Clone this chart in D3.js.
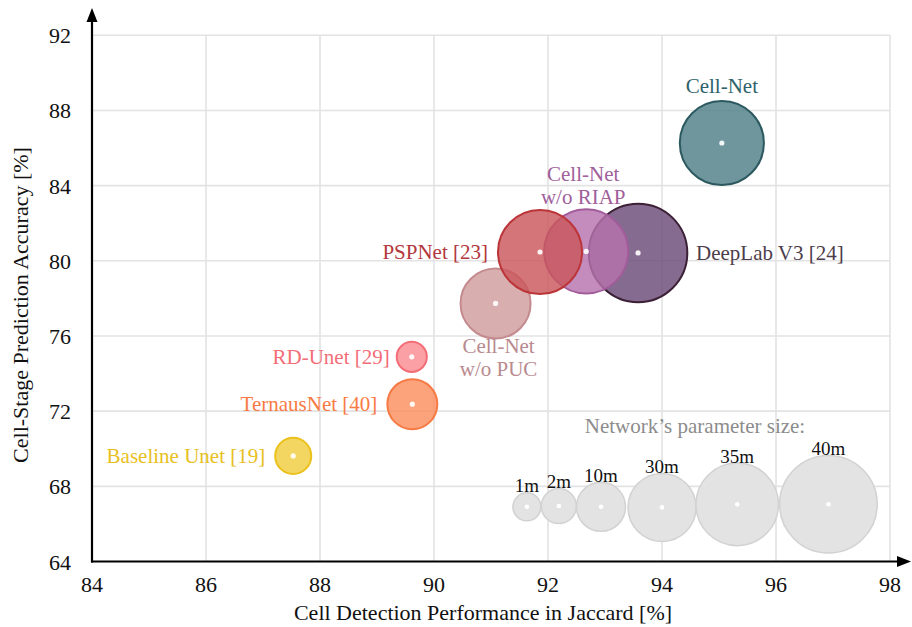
<!DOCTYPE html>
<html>
<head>
<meta charset="utf-8">
<script src="https://cdn.jsdelivr.net/npm/d3@7"></script>
<style>
  body { margin: 0; background: #fff; }
  text { font-family: "Liberation Serif", "Times New Roman", serif; }
</style>
</head>
<body>
<div id="chart"></div>
<script>
// models, drawn bottom to top
const models = ["Cell-Net w/o PUC", "DeepLab V3 [24]", "Cell-Net w/o RIAP", "PSPNet [23]",
    "Cell-Net", "RD-Unet [29]", "TernausNet [40]", "Baseline Unet [19]"];
const jaccard = [91.08, 93.58, 92.67, 91.86, 95.05, 89.61, 89.62, 87.53];
const accuracy = [77.73, 80.42, 80.5, 80.47, 86.27, 74.89, 72.37, 69.62];
const paramSize = [30.7, 40.3, 35.5, 35.5, 35.5, 1.3, 11, 2.6];

// legend bubbles
const legendLabels = ["1m", "2m", "10m", "30m", "35m", "40m"];
const legendSizes = [1, 2, 10, 30, 35, 40];
const legendX = [91.63, 92.19, 92.93, 94.0, 95.32, 96.92];
const legendY = [66.91, 66.95, 66.91, 66.88, 67.04, 67.05];

const xTicks = [84, 86, 88, 90, 92, 94, 96, 98];
const yTicks = [64, 68, 72, 76, 80, 84, 88, 92];

const W = 912, H = 627;

const svg = d3.select("#chart")
    .append("svg")
    .attr("width", W)
    .attr("height", H);

const x = d3.scaleLinear().domain([84, 98]).range([92, 890]);
const y = d3.scaleLinear().domain([64, 92]).range([561.5, 35.3]);
const r = d3.scaleLinear().domain(legendSizes).range([14, 17.5, 24.5, 34, 41.3, 48.8]);

const styles = {
    "Cell-Net w/o PUC": { fill: "#cf9c9d", stroke: "#c48b8e", text: "#b98a8f" },
    "DeepLab V3 [24]": { fill: "#6b4a78", stroke: "#3b2036", text: "#4d3d4c" },
    "Cell-Net w/o RIAP": { fill: "#b673ad", stroke: "#a35c9b", text: "#a0609b" },
    "PSPNet [23]": { fill: "#c9575c", stroke: "#bb3438", text: "#b3383d" },
    "Cell-Net": { fill: "#4f7f87", stroke: "#2c5960", text: "#2f626a" },
    "RD-Unet [29]": { fill: "#fa8c93", stroke: "#f36d77", text: "#f36d77" },
    "TernausNet [40]": { fill: "#fd8f5f", stroke: "#f77a44", text: "#f87a44" },
    "Baseline Unet [19]": { fill: "#f0cd3e", stroke: "#ebc11d", text: "#e8c01e" }
};

// grid
const grid = svg.append("g").attr("stroke", "#e3e3e3").attr("stroke-width", 1.6);
grid.selectAll(".gx").data(xTicks.slice(1)).join("line")
    .attr("x1", d => x(d)).attr("x2", d => x(d))
    .attr("y1", y(92)).attr("y2", y(64));
grid.selectAll(".gy").data(yTicks.slice(1)).join("line")
    .attr("x1", x(84)).attr("x2", x(98))
    .attr("y1", d => y(d)).attr("y2", d => y(d));

// axes with arrows
svg.append("line")
    .attr("x1", x(84)).attr("x2", x(84))
    .attr("y1", y(64) + 1).attr("y2", 18)
    .attr("stroke", "#000").attr("stroke-width", 2.2);
svg.append("path")
    .attr("d", `M${x(84)},8 L${x(84) - 5.5},22 L${x(84) + 5.5},22 Z`)
    .attr("fill", "#000");
svg.append("line")
    .attr("x1", x(84) - 1).attr("x2", 900)
    .attr("y1", y(64)).attr("y2", y(64))
    .attr("stroke", "#000").attr("stroke-width", 2.2);
svg.append("path")
    .attr("d", `M911,${y(64)} L897,${y(64) - 5.5} L897,${y(64) + 5.5} Z`)
    .attr("fill", "#000");

// tick labels
svg.append("g").selectAll("text").data(yTicks).join("text")
    .attr("x", 71).attr("y", d => y(d) + 8)
    .attr("text-anchor", "end")
    .attr("font-size", 22).attr("fill", "#111")
    .text(d => d);
svg.append("g").selectAll("text").data(xTicks).join("text")
    .attr("x", d => x(d)).attr("y", 592)
    .attr("text-anchor", "middle")
    .attr("font-size", 22).attr("fill", "#111")
    .text(d => d);

// axis titles
svg.append("text")
    .attr("x", 483).attr("y", 620)
    .attr("text-anchor", "middle")
    .attr("font-size", 22).attr("fill", "#111")
    .text("Cell Detection Performance in Jaccard [%]");
svg.append("text")
    .attr("transform", "translate(28,305) rotate(-90)")
    .attr("text-anchor", "middle")
    .attr("font-size", 22).attr("fill", "#111")
    .text("Cell-Stage Prediction Accuracy [%]");

// legend bubbles
const legend = svg.append("g");
legendSizes.forEach((s, i) => {
    legend.append("circle")
        .attr("cx", x(legendX[i])).attr("cy", y(legendY[i])).attr("r", r(s))
        .attr("fill", "#e3e3e3").attr("stroke", "#d2d2d2").attr("stroke-width", 1.5);
    legend.append("circle")
        .attr("cx", x(legendX[i])).attr("cy", y(legendY[i])).attr("r", 2.3)
        .attr("fill", "#fff");
    legend.append("text")
        .attr("x", x(legendX[i])).attr("y", y(legendY[i]) - r(s) - 0.5)
        .attr("text-anchor", "middle")
        .attr("font-size", 19).attr("fill", "#111")
        .text(legendLabels[i]);
});
svg.append("text")
    .attr("x", 695).attr("y", 433)
    .attr("text-anchor", "middle")
    .attr("font-size", 21).attr("fill", "#8c8c8c")
    .text("Network\u2019s parameter size:");

// model bubbles
const data = models.map((m, i) => ({ name: m, x: jaccard[i], y: accuracy[i], s: paramSize[i] }));
const bubbles = svg.append("g").selectAll("g").data(data).join("g");
bubbles.append("circle")
    .attr("cx", d => x(d.x)).attr("cy", d => y(d.y)).attr("r", d => r(d.s))
    .attr("fill", d => styles[d.name].fill)
    .attr("fill-opacity", 0.82)
    .attr("stroke", d => styles[d.name].stroke)
    .attr("stroke-width", 2);
bubbles.append("circle")
    .attr("cx", d => x(d.x)).attr("cy", d => y(d.y)).attr("r", 2.6)
    .attr("fill", "#fff").attr("fill-opacity", 0.9);

// labels
function label(name, lines, px, py, anchor) {
    const t = svg.append("text")
        .attr("text-anchor", anchor)
        .attr("font-size", 21)
        .attr("fill", styles[name].text);
    lines.forEach((l, i) => {
        t.append("tspan").attr("x", px).attr("y", py + i * 23).text(l);
    });
}
const pos = d => [x(jaccard[models.indexOf(d)]), y(accuracy[models.indexOf(d)])];
let p;
p = pos("Cell-Net"); label("Cell-Net", ["Cell-Net"], p[0], p[1] - 50, "middle");
p = pos("Cell-Net w/o RIAP"); label("Cell-Net w/o RIAP", ["Cell-Net", "w/o RIAP"], p[0] - 3, p[1] - 70, "middle");
p = pos("PSPNet [23]"); label("PSPNet [23]", ["PSPNet [23]"], p[0] - 52, p[1] + 7, "end");
p = pos("DeepLab V3 [24]"); label("DeepLab V3 [24]", ["DeepLab V3 [24]"], p[0] + 58, p[1] + 7, "start");
p = pos("Cell-Net w/o PUC"); label("Cell-Net w/o PUC", ["Cell-Net", "w/o PUC"], p[0] + 3, p[1] + 50, "middle");
p = pos("RD-Unet [29]"); label("RD-Unet [29]", ["RD-Unet [29]"], p[0] - 22, p[1] + 7, "end");
p = pos("TernausNet [40]"); label("TernausNet [40]", ["TernausNet [40]"], p[0] - 35, p[1] + 7, "end");
p = pos("Baseline Unet [19]"); label("Baseline Unet [19]", ["Baseline Unet [19]"], p[0] - 28, p[1] + 7, "end");
</script>
</body>
</html>
